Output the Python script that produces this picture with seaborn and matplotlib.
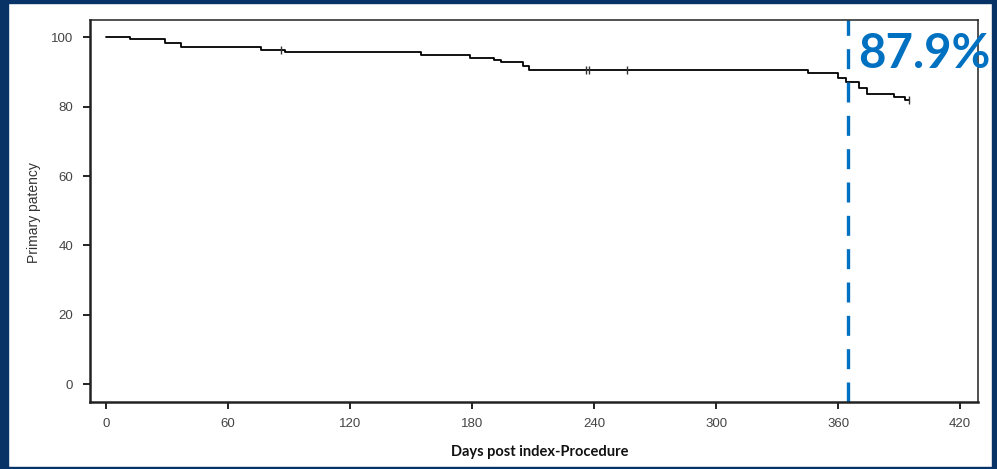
import matplotlib
matplotlib.use("Agg")
import matplotlib.pyplot as plt
import seaborn as sns
import pandas as pd
from matplotlib.patches import Rectangle

# Kaplan-Meier step data (days, primary patency %)
days = [0, 12, 29, 37, 76, 88, 155, 179, 191, 194, 205, 208, 345, 360, 364, 370, 374, 387.5, 393, 395]
patency = [100, 99.4, 98.3, 97.1, 96.4, 95.8, 95.0, 94.1, 93.4, 92.8, 91.8, 90.6, 89.7, 88.4, 87.0, 85.3, 83.6, 82.8, 81.9, 81.9]
censor_days = [86, 236, 237.6, 256, 395]
censor_vals = [96.4, 90.6, 90.6, 90.6, 81.9]
x_ticks = [0, 60, 120, 180, 240, 300, 360, 420]
y_ticks = [0, 20, 40, 60, 80, 100]
landmark_day = 365
landmark_label = "87.9%"

sns.set_theme(style="ticks")
plt.rcParams['font.family'] = ['Liberation Sans', 'DejaVu Sans']

fig = plt.figure(figsize=(9.97, 4.69), dpi=100)
fig.patch.set_facecolor("white")
ax = fig.add_axes([90/997, 1-401.7/469, (977.7-90)/997, (401.7-20)/469])

df = pd.DataFrame({"day": days, "patency": patency})
sns.lineplot(data=df, x="day", y="patency", drawstyle="steps-post", color="black",
             linewidth=1.3, estimator=None, sort=False, ax=ax)
cdf = pd.DataFrame({"day": censor_days, "patency": censor_vals})
sns.scatterplot(data=cdf, x="day", y="patency", marker="|", s=40, color="#333333",
                linewidth=1.0, ax=ax, zorder=3)

ax.axvline(landmark_day, color="#0070C0", linewidth=2.4, dashes=(6, 4))

ax.set_xlim(-7.87, 428.6)
ax.set_ylim(-5.1, 105)
ax.set_xticks(x_ticks)
ax.set_yticks(y_ticks)
ax.tick_params(axis="both", direction="out", length=5, width=1.4, labelsize=9.5,
               labelcolor="#444444", color="#222222", pad=7)
for s in ["left", "bottom"]:
    ax.spines[s].set_linewidth(1.8)
    ax.spines[s].set_color("#222222")
for s in ["top", "right"]:
    ax.spines[s].set_linewidth(1.1)
    ax.spines[s].set_color("#222222")

ax.set_xlabel("")
ax.set_ylabel("")
fig.text(34/997, 1-213/469, "Primary patency", fontsize=10, color="#333333",
         rotation=90, ha="center", va="center")
fig.text(540/997, 1-452/469, "Days post index-Procedure", fontsize=10.5, fontweight="bold",
         family=["Lato", "DejaVu Sans"], ha="center", va="center", color="#111111")

fig.text(858/997, 1-68/469, landmark_label, fontsize=34, fontweight="bold",
         family=["Lato", "DejaVu Sans"], color="#0070C0", ha="left", va="baseline")

# navy frame
navy = "#083366"
fig.patches.extend([
    Rectangle((0, 0), 8/997, 1, transform=fig.transFigure, color=navy, zorder=10),
    Rectangle((0, 1-3/469), 1, 3/469, transform=fig.transFigure, color=navy, zorder=10),
    Rectangle((1-5/997, 0), 5/997, 1, transform=fig.transFigure, color=navy, zorder=10),
    Rectangle((0, 0), 1, 2.5/469, transform=fig.transFigure, color=navy, zorder=10),
])

fig.savefig("out.png", dpi=100)
